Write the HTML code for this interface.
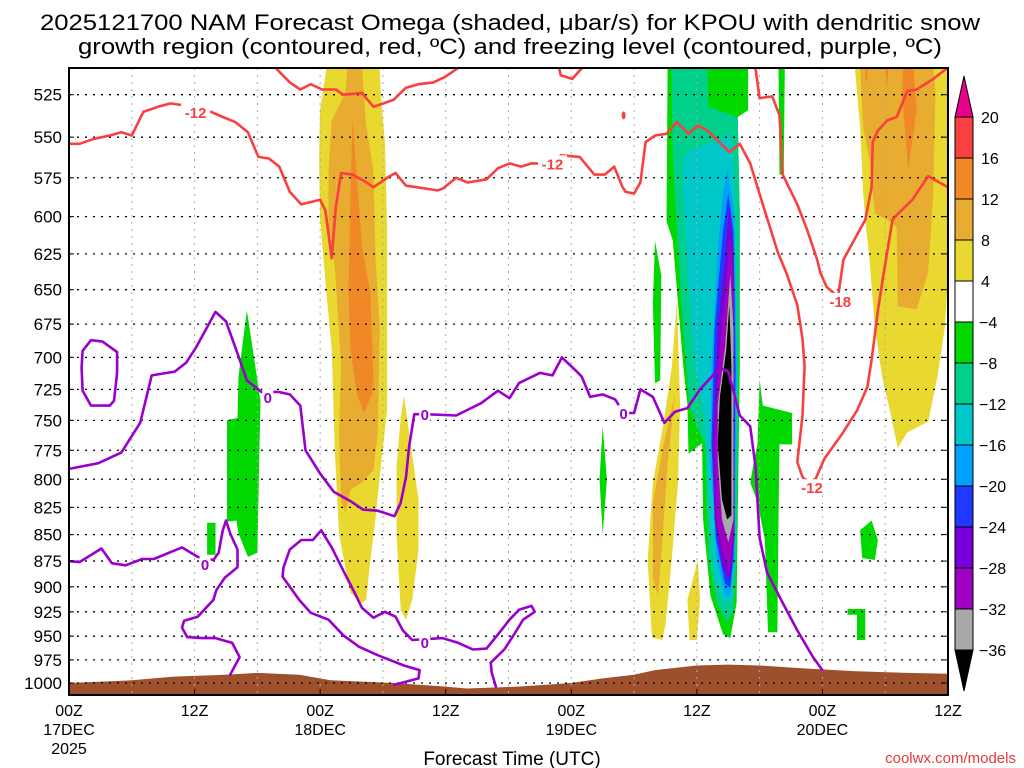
<!DOCTYPE html>
<html><head><meta charset="utf-8"><style>
html,body{margin:0;padding:0;background:#fff;}
svg{display:block;font-family:"Liberation Sans",sans-serif;}
</style></head><body>
<svg id="chart" width="1024" height="768" viewBox="0 0 1024 768" xmlns="http://www.w3.org/2000/svg">
<rect width="1024" height="768" fill="#fff"/>
<text x="510" y="30" font-size="22" text-anchor="middle" textLength="940" lengthAdjust="spacingAndGlyphs">2025121700 NAM Forecast Omega (shaded, μbar/s) for KPOU with dendritic snow</text>
<text x="510" y="54" font-size="22" text-anchor="middle" textLength="864" lengthAdjust="spacingAndGlyphs">growth region (contoured, red, ºC) and freezing level (contoured, purple, ºC)</text>
<defs><clipPath id="plotclip"><rect x="69" y="68" width="879" height="627"/></clipPath></defs>
<g id="shade" clip-path="url(#plotclip)"></g>
<g id="ground" clip-path="url(#plotclip)"></g>
<g id="grid"></g>
<g id="contours" clip-path="url(#plotclip)"></g>
<g id="axes"></g>
<g id="cbar"></g>
<text x="512" y="765" font-size="19" text-anchor="middle">Forecast Time (UTC)</text>
<text x="1016" y="763" font-size="15" fill="#e83838" text-anchor="end">coolwx.com/models</text>
</svg>
<script>
// ---- data ----
const pressureTicks=[525,550,575,600,625,650,675,700,725,750,775,800,825,850,875,900,925,950,975,1000];
const timeTickHours=[0,12,24,36,48,60,72,84];
const timeTickLine1=["00Z","12Z","00Z","12Z","00Z","12Z","00Z","12Z"];
const timeTickLine2=["17DEC","","18DEC","","19DEC","","20DEC",""];
const timeTickLine3=["2025","","","","","","",""];
const cbarLevels=[20,16,12,8,4,-4,-8,-12,-16,-20,-24,-28,-32,-36];
const cbarColors=["#e8008a","#f84040","#f08828","#e8ac30","#e8d830","#ffffff","#00d800","#00d08c","#00c8c8","#00a0ff","#2038ff","#7800d8","#a000c0","#a8a8a8","#000000"];
// shaded regions: [colorIndex, points [hour,hPa]]
const yellowA=[[24.6,510],[29.7,510],[29.8,524],[30.2,554],[30.4,607],[30.4,742],[29.8,789],[29.3,834],[28.8,874],[28.4,913],[28.0,916],[26.9,906],[26.4,881],[25.8,849],[25.4,775],[25.1,694],[24.6,652],[24.0,602],[23.9,564],[24.0,534]];
const goldA=[[26.6,510],[28.0,510],[28.4,543],[29.1,571],[29.3,629],[29.7,677],[29.5,760],[29.1,792],[28.0,803],[26.9,809],[26.4,830],[26.0,818],[25.8,760],[26.0,707],[25.4,634],[24.8,607],[24.8,570],[25.1,540],[26.4,524]];
const orangeA=[[27.1,540],[28.0,620],[28.8,652],[29.1,718],[29.0,728],[28.2,744],[27.5,728],[26.9,694],[26.7,652],[26.9,585]];
const yellowB=[[32.0,730],[33.4,818],[33.4,864],[32.8,913],[32.2,933],[31.7,923],[31.3,849],[31.3,790],[31.7,748]];
const yellowC=[[58.1,658],[58.4,738],[58.2,803],[57.6,874],[57.0,938],[56.7,954],[55.7,951],[55.3,874],[55.8,803],[56.8,753],[57.6,708]];
const goldC=[[57.9,729],[57.2,787],[56.7,856],[56.3,909],[55.8,891],[55.8,821],[56.8,771]];
const yellowD=[[60.1,874],[60.3,913],[60.0,954],[59.3,954],[59.1,913]];
const yellowE=[[75.1,510],[84.0,510],[84.0,641],[83.7,677],[83.0,715],[82.1,751],[80.1,760],[79.2,773],[78.5,744],[77.7,715],[77.0,677],[76.5,629],[76.1,602],[75.9,585],[75.6,544]];
const goldE=[[75.6,510],[82.6,510],[82.8,524],[82.6,585],[82.1,638],[81.0,664],[79.2,662],[79.1,607],[78.2,602],[77.0,598],[76.5,564],[75.9,544]];
const orangeE=[[79.7,510],[80.7,510],[81.0,534],[80.2,570],[79.6,524]];
const orangeE2=[[76.1,510],[76.3,510],[76.3,517],[76.1,517]];
const orangeE3=[[78.0,510],[78.3,510],[78.2,521]];
const greenA=[[17.0,665],[17.8,707],[18.3,734],[18.2,775],[18.0,867],[17.1,871],[16.2,849],[16.0,837],[15.1,838],[15.1,750],[16.1,748],[16.2,715],[16.5,695]];
const greenB=[[13.2,839],[14.0,839],[14.0,869],[13.2,869]];
const greenC=[[51.0,755],[51.4,800],[51.0,850],[50.7,800]];
const greenD=[[56.0,616],[56.6,640],[56.5,718],[56.0,720],[55.8,660]];
const greenMain=[[57.2,510],[64.9,510],[64.9,534],[63.9,538],[64.1,598],[64.1,707],[63.9,836],[63.8,916],[63.2,952],[62.5,948],[61.3,909],[60.6,836],[60.5,769],[59.2,778],[59.1,737],[58.7,707],[57.7,616],[57.1,603]];
const greenF=[[66.0,717],[66.3,738],[69.1,744],[69.1,770],[67.9,770],[67.8,837],[67.7,946],[66.8,946],[66.5,855],[65.8,820],[65.1,803],[65.4,787],[65.8,770]];
const greenG=[[67.8,510],[68.4,510],[68.3,573],[67.9,573]];
const greenH=[[76.7,837],[77.3,855],[77.0,874],[75.8,872],[75.6,846]];
const greenI=[[74.4,922],[76.1,922],[76.1,954],[75.3,954],[75.3,928],[74.4,928]];
const tealMain=[[57.6,510],[61.0,510],[61.1,532],[63.9,538],[64.1,598],[64.0,707],[63.8,871],[63.5,924],[62.9,936],[61.9,916],[61.1,871],[60.8,769],[60.0,756],[59.3,737],[58.7,678],[58.1,610],[57.7,562]];
const cyanMain=[[58.7,562],[59.6,557],[63.2,549],[63.6,574],[63.8,707],[63.6,871],[63.4,909],[62.7,920],[61.7,890],[61.1,818],[60.8,752],[59.8,707],[59.1,636],[58.7,585]];
const skyMain=[[62.9,569],[63.6,598],[63.8,707],[63.6,871],[63.2,909],[62.7,909],[61.9,871],[61.3,785],[61.4,707],[62.0,623],[62.5,585]];
const blueMain=[[63.0,585],[63.5,610],[63.7,707],[63.5,871],[63.2,901],[62.7,897],[61.8,853],[61.4,769],[61.7,678],[62.5,610]];
const purpleMain=[[63.1,592],[63.5,623],[63.6,853],[63.2,893],[62.5,883],[61.7,836],[61.5,769],[62.0,678],[62.7,628]];
const violetMain=[[63.2,613],[63.5,650],[63.5,847],[63.1,883],[62.5,868],[61.9,836],[61.7,769],[62.2,692],[62.8,650]];
const grayMain=[[63.2,639],[63.5,678],[63.5,836],[63.0,857],[62.4,836],[62.0,785],[62.0,737],[62.7,692]];
const blackMain=[[63.1,661],[63.3,707],[63.3,832],[62.9,836],[62.4,818],[62.0,769],[62.2,731],[62.8,695]];
const shadeRegions=[[4,yellowA],[3,goldA],[2,orangeA],[4,yellowB],[4,yellowC],[3,goldC],[4,yellowD],[4,yellowE],[3,goldE],[2,orangeE],[2,orangeE2],[2,orangeE3],
 [6,greenA],[6,greenB],[6,greenC],[6,greenD],[6,greenMain],[6,greenF],[6,greenG],[6,greenH],[6,greenI],
 [7,tealMain],[8,cyanMain],[9,skyMain],[10,blueMain],[11,purpleMain],[12,violetMain],[13,grayMain],[14,blackMain]];
// terrain surface pressure
const groundHours=[0,6,10,15,18,22,25,31,36,38,43,48,51,54,56,60,63,66,70,75,80,84];
const groundPsfc=[1000,997,993,991,989,991,997,1000,1004,1006,1004,1000,995,991,986,981,980,981,984,987,989,990];
// red (dendritic) contours
const red12Main=[[0,554],[1.0,554],[2.4,551],[3.9,549],[5.0,547],[6.0,549],[7.1,535],[8.5,532],[9.7,530],[10.8,531],[12.1,535],[13.6,535],[14.7,538],[15.9,541],[17.1,547],[18.1,562],[19.1,563],[20.1,568],[21.1,584],[22.2,592],[24.0,589],[24.5,596],[25.1,628],[25.5,594],[26.0,572],[27.1,573],[28.2,577],[29.1,581],[30.4,575],[31.2,572],[32.2,580],[33.2,581],[35.2,583],[35.7,582],[37.0,575],[38.1,578],[39.9,576],[41.0,569],[42.1,566],[43.2,568],[44.2,566],[46.2,566],[47.0,561],[48.8,562],[50.2,573],[51.2,573],[52.1,568],[52.9,581],[53.2,584],[54.0,585],[54.6,578],[55.1,553],[56.0,549],[57.1,548],[58.1,541],[59.2,548],[60.1,543],[61.0,546],[63.1,559],[64.1,554],[65.1,566],[66.3,592],[67.7,623],[68.6,639],[69.6,661],[70.1,686],[70.3,707],[70.1,746],[69.6,785],[70.1,798],[71.0,807],[72.2,782],[73.9,761],[75.3,742],[76.3,723],[76.7,702],[77.3,665],[77.8,641],[78.7,602],[79.1,599],[80.6,589],[82.1,574],[84.0,581]];
const red12Top=[[19.6,509],[21.1,518],[22.1,522],[23.1,519],[24.2,522],[25.5,522],[26.2,525],[28.0,524],[29.1,532],[31.0,528],[32.2,521],[33.4,519],[34.8,518],[35.9,515],[37.4,509]];
const red12Small=[[46.8,509],[47.0,514],[48.1,516],[49.0,510]];
const red18=[[65.6,510],[66.0,527],[67.2,526],[67.9,537],[68.2,573],[69.6,592],[70.5,608],[71.5,629],[71.8,638],[72.4,648],[73.5,655],[74.0,629],[76.1,602],[76.7,581],[76.8,553],[77.3,546],[78.2,540],[79.1,538],[80.1,523],[81.0,522],[82.6,516],[83.9,510]];
const redLabels=[["-12",12.1,535],["-12",46.2,566],["-12",71.0,807],["-18",73.7,658]];
const redDot=[53.0,537];
// purple (freezing level) contours
const zeroLoop=[[1.3,695],[2.1,687],[3.2,688],[4.6,696],[4.6,712],[4.3,734],[3.9,738],[2.1,738],[1.3,726],[1.2,708],[1.3,695]];
const zeroMain=[[0,791],[2.8,786],[5.0,777],[6.8,752],[7.9,714],[10.1,711],[11.2,704],[12.1,693],[14.0,666],[15.0,673],[16.1,697],[17.0,718],[18.4,727],[20.0,727],[21.1,729],[22.1,738],[22.6,775],[24.0,795],[25.3,811],[27.0,820],[28.1,827],[29.5,828],[31.1,833],[31.7,821],[32.2,798],[32.5,772],[33.0,745],[34.0,745],[37.0,746],[39.4,736],[41.0,726],[42.1,732],[43.0,720],[45.0,712],[46.2,714],[47.1,700],[48.4,710],[49.0,715],[49.8,731],[51.0,729],[52.2,733],[53.0,744],[54.0,744],[54.6,725],[55.8,731],[56.9,752],[57.9,743],[59.1,740],[60.3,725],[62.2,708],[63.0,711],[64.1,746],[65.1,755],[65.6,789],[66.0,853],[66.7,886],[68.2,916],[69.6,944],[71.1,972],[72.0,986]];
const zeroLow=[[0,875],[1.0,876],[3.1,863],[4.1,877],[5.4,879],[7.0,873],[8.1,873],[10.8,862],[12.3,871],[13.8,874],[14.3,867],[14.7,846],[15.0,837],[15.4,849],[16.1,864],[16.1,881],[14.9,891],[14.1,903],[13.8,913],[12.3,930],[11.0,934],[10.8,941],[11.3,951],[12.7,952],[14.0,952],[15.6,957],[16.3,972],[15.4,991]];
const zeroMid=[[31.1,1002],[33.4,995],[33.5,986],[32.0,981],[29.5,970],[27.7,961],[26.2,949],[24.8,933],[23.1,926],[22.0,913],[21.1,900],[20.4,890],[20.5,881],[21.1,864],[22.2,855],[23.3,855],[24.1,846],[25.1,862],[26.2,884],[27.3,906],[28.0,921],[29.1,931],[30.2,925],[31.2,930],[31.9,944],[32.8,954],[35.7,952],[37.2,957],[38.6,964],[39.9,963],[40.8,951],[42.1,933],[43.0,923],[44.2,919],[44.5,925],[43.4,933],[42.6,947],[41.6,964],[40.3,978],[40.4,989],[40.8,1004]];
const zeroLabels=[["0",19.0,731],["0",13.0,878],["0",34.0,745],["0",53.0,744],["0",34.0,956]];

// ---- scales ----
const PX0=69,PX1=948,PY0=68,PY1=695;
function X(h){return PX0+h*(PX1-PX0)/84;}
function Y(p){return 683+913*Math.log(p/1000);}
const NS="http://www.w3.org/2000/svg";
function mk(tag,parent,attrs){const e=document.createElementNS(NS,tag);for(const k in attrs)e.setAttribute(k,attrs[k]);parent.appendChild(e);return e;}
function pts(arr){return arr.map(q=>X(q[0]).toFixed(1)+","+Y(q[1]).toFixed(1)).join(" ");}

// shading
const shade=document.getElementById("shade");
shadeRegions.forEach(r=>{
  const e=mk("polygon",shade,{points:pts(r[1]),fill:cbarColors[r[0]]});
  
  
});
// ground
const gnd=document.getElementById("ground");
let gp=groundHours.map((h,i)=>[h,groundPsfc[i]]);
gp.push([84,1020]);gp.push([0,1020]);
const ge=mk("polygon",gnd,{points:pts(gp),fill:"#9e4f2c"});



// grid
const grid=document.getElementById("grid");
pressureTicks.forEach(p=>{
  const l=mk("line",grid,{x1:PX0,x2:PX1,y1:Y(p),y2:Y(p),stroke:"#000","stroke-width":1.3,"stroke-dasharray":"2,6"});
  
  
});
for(let h=6;h<84;h+=6){
  const l=mk("line",grid,{x1:X(h),x2:X(h),y1:PY0,y2:PY1,stroke:"#aaa","stroke-width":1,"stroke-dasharray":"2,5"});
  
  
}

// contours
const cg=document.getElementById("contours");
function line(arr,color,name){
  const e=mk("polyline",cg,{points:pts(arr),fill:"none",stroke:color,"stroke-width":2.6,"stroke-linejoin":"round","stroke-linecap":"round"});
  
  
}
line(red12Main,"#f84040","contour-minus12");
line(red12Top,"#f84040","contour-minus12-upper");
line(red12Small,"#f84040","contour-minus12-small");
line(red18,"#f84040","contour-minus18");
const dot=mk("ellipse",cg,{cx:X(redDot[0]),cy:Y(redDot[1]),rx:2,ry:4,fill:"#f84040"});


line(zeroLoop,"#9a00cc","freezing-contour-loop");
line(zeroMain,"#9a00cc","freezing-contour-main");
line(zeroLow,"#9a00cc","freezing-contour-low");
line(zeroMid,"#9a00cc","freezing-contour-mid");
function clabel(lb,color,name){
  const x=X(lb[1]),y=Y(lb[2]);const w=lb[0].length*9+2;
  const r=mk("rect",cg,{x:x-w/2,y:y-8,width:w,height:16,fill:"#fff"});
  
  
  const t=mk("text",cg,{x:x,y:y+6,"font-size":15,"font-weight":"bold","text-anchor":"middle",fill:color});
  t.textContent=lb[0];
  
  
}
redLabels.forEach(l=>clabel(l,"#f84040","red-contour-label"));
zeroLabels.forEach(l=>clabel(l,"#9a00cc","freezing-contour-label"));

// axes
const ax=document.getElementById("axes");
const fr=mk("rect",ax,{x:PX0,y:PY0,width:PX1-PX0,height:PY1-PY0,fill:"none",stroke:"#000","stroke-width":2});


pressureTicks.forEach(p=>{
  const t=mk("text",ax,{x:62,y:Y(p)+6,"font-size":17,"text-anchor":"end"});
  t.textContent=p;
  
  
  mk("line",ax,{x1:PX0,x2:PX0+5,y1:Y(p),y2:Y(p),stroke:"#000","stroke-width":1});
  mk("line",ax,{x1:PX1-5,x2:PX1,y1:Y(p),y2:Y(p),stroke:"#000","stroke-width":1});
});
timeTickHours.forEach((h,i)=>{
  const x=X(h);
  mk("line",ax,{x1:x,x2:x,y1:PY1,y2:PY1-6,stroke:"#000","stroke-width":1});
  [[timeTickLine1[i],716],[timeTickLine2[i],735],[timeTickLine3[i],754]].forEach(s=>{
    if(!s[0])return;
    const t=mk("text",ax,{x:x,y:s[1],"font-size":16,"text-anchor":"middle"});
    t.textContent=s[0];
    
    
  });
});

// colorbar
const cb=document.getElementById("cbar");
const CBX=955,CBW=18,CBTOP=117,CBSTEP=(650-117)/13;
const tri1=mk("polygon",cb,{points:`${CBX},${CBTOP} ${CBX+CBW},${CBTOP} ${CBX+CBW/2},76`,fill:cbarColors[0],stroke:"#000","stroke-width":1});


for(let i=0;i<13;i++){
  const r=mk("rect",cb,{x:CBX,y:CBTOP+i*CBSTEP,width:CBW,height:CBSTEP,fill:cbarColors[i+1],stroke:"#000","stroke-width":1});
  
  
}
const tri2=mk("polygon",cb,{points:`${CBX},650 ${CBX+CBW},650 ${CBX+CBW/2},691`,fill:cbarColors[14],stroke:"#000","stroke-width":1});


cbarLevels.forEach((v,i)=>{
  const t=mk("text",cb,{x:v<0?979:981,y:CBTOP+i*CBSTEP+6,"font-size":16});
  t.textContent=v<0?"\u2212"+Math.abs(v):String(v);
  
  
});
</script>
</body></html>
